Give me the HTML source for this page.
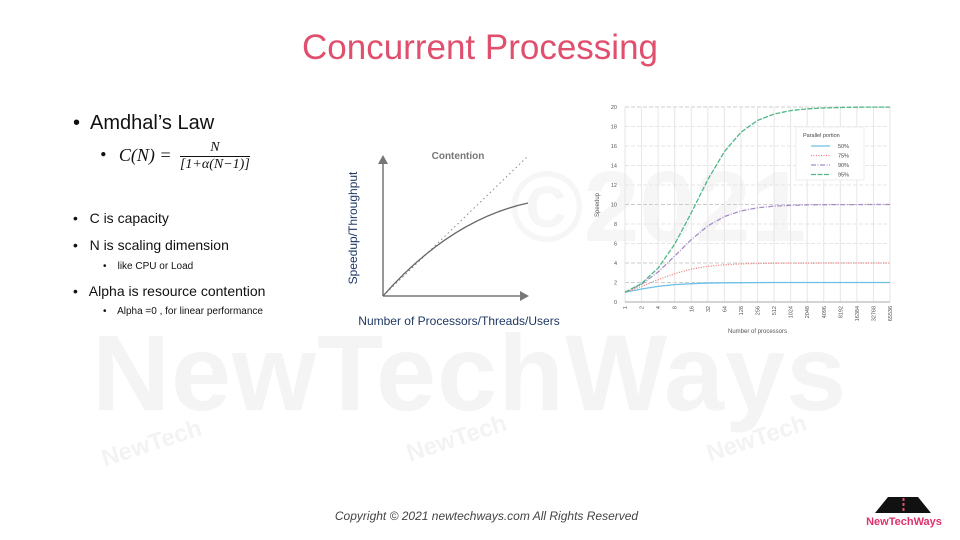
<!DOCTYPE html>
<html><head><meta charset="utf-8"><style>
body{margin:0;width:960px;height:540px;background:#fff;position:relative;overflow:hidden;font-family:"Liberation Sans",sans-serif}
.abs{position:absolute}
</style></head><body>
<div class="abs" style="left:92px;top:310px;font-size:108px;font-weight:bold;color:#f4f4f4;letter-spacing:1px">NewTechWays</div>
<div class="abs" style="left:510px;top:150px;font-size:100px;font-weight:bold;color:#f6f6f6">©2021</div>
<div class="abs" style="left:100px;top:430px;font-size:24px;font-weight:bold;color:#f3f3f3;transform:rotate(-18deg)">NewTech</div>
<div class="abs" style="left:405px;top:425px;font-size:24px;font-weight:bold;color:#f3f3f3;transform:rotate(-18deg)">NewTech</div>
<div class="abs" style="left:705px;top:425px;font-size:24px;font-weight:bold;color:#f3f3f3;transform:rotate(-18deg)">NewTech</div>

<div class="abs" style="left:0;width:960px;top:28px;text-align:center;font-size:35px;color:#e0506e">Concurrent Processing</div>

<div class="abs" style="left:73px;top:112px;color:#111">
<div style="font-size:20px">•&nbsp; Amdhal’s Law</div>
<div style="font-family:'Liberation Serif',serif;font-style:italic;font-size:18px;position:absolute;left:27px;top:28px;white-space:nowrap">• <span style="margin-left:8px">C(N) =</span>
<span style="display:inline-block;vertical-align:middle;text-align:center;font-size:14px;margin-left:4px"><span style="display:block;border-bottom:1px solid #111">N</span><span style="display:block">[1+α(N−1)]</span></span></div>
<div style="position:absolute;top:98px;font-size:14px;white-space:nowrap">•&nbsp;&nbsp; C is capacity</div>
<div style="position:absolute;top:125px;font-size:14px;white-space:nowrap">•&nbsp;&nbsp; N is scaling dimension</div>
<div style="position:absolute;left:30px;top:149px;font-size:10px;white-space:nowrap">•&nbsp;&nbsp;&nbsp; like CPU or Load</div>
<div style="position:absolute;top:171px;font-size:14px;white-space:nowrap">•&nbsp;&nbsp; Alpha is resource contention</div>
<div style="position:absolute;left:30px;top:194px;font-size:10px;white-space:nowrap">•&nbsp;&nbsp;&nbsp; Alpha =0 , for linear performance</div>
</div>

<svg class="abs" style="left:0;top:0" width="960" height="540">
<text x="458" y="159" font-size="10" font-weight="bold" fill="#777" text-anchor="middle" font-family="Liberation Sans">Contention</text>
<line x1="383" y1="296" x2="383" y2="162" stroke="#777" stroke-width="1.5"/>
<polygon points="383,155 378,164 388,164" fill="#777"/>
<line x1="383" y1="296" x2="522" y2="296" stroke="#777" stroke-width="1.5"/>
<polygon points="529,296 520,291 520,301" fill="#777"/>
<line x1="383" y1="296" x2="528" y2="156" stroke="#888" stroke-dasharray="1.5,3"/>
<path d="M383,296 Q450,220 528,203" fill="none" stroke="#666" stroke-width="1.3"/>
<text transform="translate(357,228) rotate(-90)" font-size="12" fill="#1f3864" text-anchor="middle" font-family="Liberation Sans">Speedup/Throughput</text>
<text x="459" y="325" font-size="12" fill="#1f3864" text-anchor="middle" font-family="Liberation Sans">Number of Processors/Threads/Users</text>
</svg>

<svg id="amdahl" class="abs" style="left:0;top:0" width="960" height="540"></svg>

<div class="abs" style="left:0;width:973px;top:509px;text-align:center;font-size:12px;font-style:italic;color:#444">Copyright © 2021 newtechways.com All Rights Reserved</div>
<svg class="abs" style="left:860px;top:495px" width="90" height="40">
<polygon points="15,18 28,2 58,2 71,18" fill="#111"/>
<line x1="43.5" y1="3" x2="43.5" y2="18" stroke="#e0506e" stroke-width="2" stroke-dasharray="3,2"/>
<text x="44" y="30" font-size="11" font-weight="bold" fill="#e0306e" text-anchor="middle" font-family="Liberation Sans">NewTechWays</text>
</svg>

<script>
const categories=["1","2","4","8","16","32","64","128","256","512","1024","2048","4096","8192","16384","32768","65536"];
const s50=[1,1.33,1.6,1.78,1.88,1.94,1.97,1.98,1.99,2,2,2,2,2,2,2,2];
const s75=[1,1.6,2.29,2.91,3.37,3.66,3.82,3.91,3.95,3.98,3.99,3.99,4,4,4,4,4];
const s90=[1,1.82,3.08,4.71,6.4,7.8,8.77,9.34,9.66,9.83,9.91,9.96,9.98,9.99,9.99,10,10];
const s95=[1,1.9,3.48,5.93,9.14,12.55,15.42,17.41,18.62,19.28,19.63,19.81,19.9,19.95,19.98,19.99,19.99];
const yTicks=[0,2,4,6,8,10,12,14,16,18,20];
const seriesNames=["50%","75%","90%","95%"];
const svg=document.getElementById('amdahl');
const NS='http://www.w3.org/2000/svg';
const X0=625,X1=890,Y0=302,Y1=107;
const xs=i=>X0+i*(X1-X0)/(categories.length-1);
const ys=v=>Y0-v*(Y0-Y1)/20;
function mk(t,a){const e=document.createElementNS(NS,t);for(const k in a)e.setAttribute(k,a[k]);svg.appendChild(e);return e;}
yTicks.forEach(v=>{
 const l=mk('line',{x1:X0,x2:X1,y1:ys(v),y2:ys(v),stroke:(v%10==0||v==4||v==2)&&v>0?'#ccc':'#e6e6e6','stroke-dasharray':v>0?'4,2':''});
 
 
 const t=mk('text',{x:X0-8,y:ys(v)+2,'font-size':5.5,fill:'#555','text-anchor':'end','font-family':'Liberation Sans'});
 t.textContent=v;
 
 
});
categories.forEach((c,i)=>{
 const l=mk('line',{x1:xs(i),x2:xs(i),y1:Y1,y2:Y0,stroke:'#e6e6e6'});
 
 
 const t=mk('text',{transform:`translate(${xs(i)+2},${Y0+4}) rotate(-90)`,'font-size':5.5,fill:'#555','text-anchor':'end','font-family':'Liberation Sans'});
 t.textContent=c;
 
 
});
const ax=mk('line',{x1:X0,x2:X1,y1:Y0,y2:Y0,stroke:'#aaa'});


const xt=mk('text',{x:(X0+X1)/2,y:333,'font-size':6,fill:'#555','text-anchor':'middle','font-family':'Liberation Sans'});
xt.textContent='Number of processors';


const yt=mk('text',{transform:'translate(599,205) rotate(-90)','font-size':6,fill:'#555','text-anchor':'middle','font-family':'Liberation Sans'});
yt.textContent='Speedup';


const series=[s50,s75,s90,s95];
const colors=['#6ec0e8','#ee7b7b','#a98bc8','#4fb887'];
const dashes=['','1,1.5','5,1.5,1,1.5','5,1.5'];
series.forEach((s,k)=>{
 const p=mk('polyline',{points:s.map((v,i)=>xs(i)+','+ys(v)).join(' '),fill:'none',stroke:colors[k],'stroke-width':1.3,'stroke-dasharray':dashes[k]});
 
 
});
const lg=mk('rect',{x:796,y:127,width:68,height:53,fill:'#fff',stroke:'#eee'});


const lt=mk('text',{x:803,y:137,'font-size':5.5,fill:'#444','font-family':'Liberation Sans'});
lt.textContent='Parallel portion';


seriesNames.forEach((n,k)=>{
 const y=146+k*9.5;
 const l=mk('line',{x1:811,x2:830,y1:y,y2:y,stroke:colors[k],'stroke-width':1.2,'stroke-dasharray':dashes[k]});
 
 
 const t=mk('text',{x:838,y:y+2,'font-size':5.5,fill:'#444','font-family':'Liberation Sans'});
 t.textContent=n;
 
 
});
</script>
</body></html>
